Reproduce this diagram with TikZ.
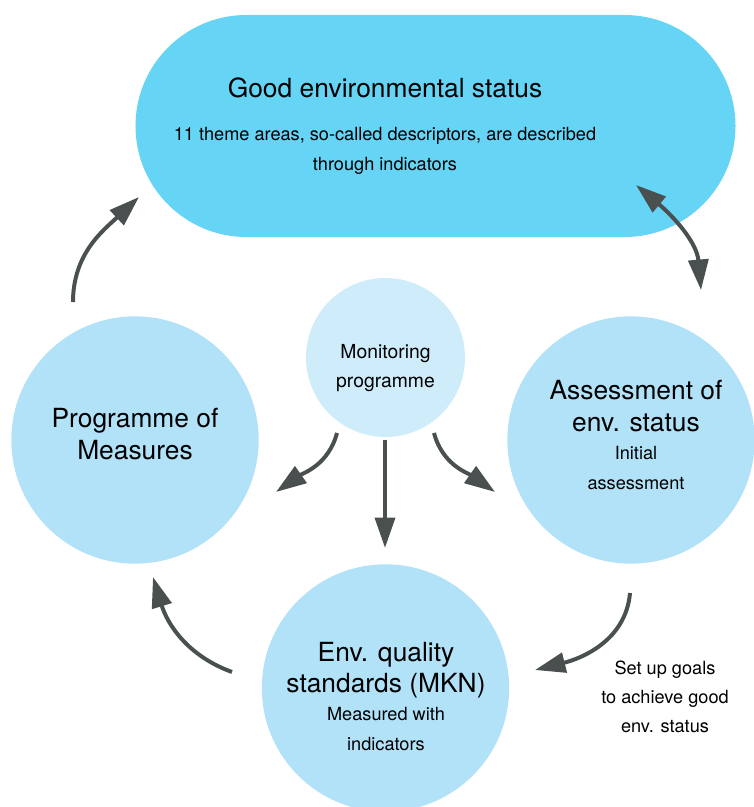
\documentclass[tikz,border=0pt]{standalone}
\usepackage{fontspec}
\setmainfont{TeX Gyre Heros}
\usetikzlibrary{arrows.meta}

\definecolor{gesblue}{HTML}{66D4F5}
\definecolor{discblue}{HTML}{B2E2F8}
\definecolor{monblue}{HTML}{CEECFA}
\definecolor{arrowgray}{HTML}{4A5050}

\tikzset{
  arrowhead/.tip={Triangle[length=26pt,width=17pt]},
  disc/.style={circle, fill=discblue, minimum size=7.42cm, inner sep=0pt},
  bigtext/.style={align=center, font=\fontsize{22.5}{27}\selectfont},
  smalltext/.style={align=center, font=\fontsize{15.5}{25}\selectfont},
  flow/.style={draw=arrowgray, line width=3.4pt, -arrowhead},
  twoway/.style={draw=arrowgray, line width=3.4pt, arrowhead-arrowhead}
}

\begin{document}
\begin{tikzpicture}[x=0.03cm, y=0.03cm]
      \useasboundingbox (0,0) rectangle (754,-807);
      % the target on top
      \node[rectangle, rounded corners=3.33cm, fill=gesblue, minimum width=18cm, minimum height=6.66cm] (ges) at (435.5,-126) {};
      \node[bigtext] (gestitle) at (385,-88) {Good environmental status};
      \node[smalltext] (gessub) at (385,-151) {11 theme areas, so-called descriptors, are described\\through indicators};

      % the three steps of the cycle
      \node[disc] (meas) at (135,-440) {};
      \node[bigtext] (meastxt) at (135,-434) {Programme of\\Measures};
      \node[disc] (assess) at (631,-440) {};
      \node[bigtext] (assesstxt) at (636,-406) {Assessment of\\env. status};
      \node[smalltext] (assesssub) at (636,-468) {Initial\\assessment};
      \node[disc] (mkn) at (385.5,-688) {};
      \node[bigtext] (mkntxt) at (386,-670) {Env. quality\\standards (MKN)};
      \node[smalltext] (mknsub) at (386,-729) {Measured with\\indicators};

      % monitoring in the middle
      \node[disc, fill=monblue, minimum size=4.77cm] (mon) at (385.5,-357.5) {};
      \node[smalltext, font=\fontsize{16.5}{25}\selectfont] (montxt) at (385.5,-368) {Monitoring\\programme};

      \node[smalltext] (goals) at (665,-697) {Set up goals\\to achieve good\\env. status};

      % arrow ends
      \coordinate (m1) at (73,-302);   \coordinate (g1) at (139,-197);
      \coordinate (g2) at (636,-185);  \coordinate (a2) at (701,-290);
      \coordinate (a3) at (630,-593);  \coordinate (k3) at (535,-670);
      \coordinate (k4) at (232,-672);  \coordinate (m4) at (153,-577);
      \coordinate (o1) at (337,-433);  \coordinate (p1) at (276,-492);
      \coordinate (o2) at (385,-440);  \coordinate (p2) at (385,-548);
      \coordinate (o3) at (434,-433);  \coordinate (p3) at (495,-492);

      \draw[flow] (m1) to[out=90, in=223] (g1);
      \draw[twoway] (g2) to[out=-40, in=95] (a2);
      \draw[flow] (a3) to[out=-95, in=14] (k3);
      \draw[flow] (k4) to[out=160, in=-73] (m4);
      \draw[flow] (o1) to[out=-105, in=35] (p1);
      \draw[flow] (o2) -- (p2);
      \draw[flow] (o3) to[out=-75, in=145] (p3);
    \end{tikzpicture}
\end{document}
